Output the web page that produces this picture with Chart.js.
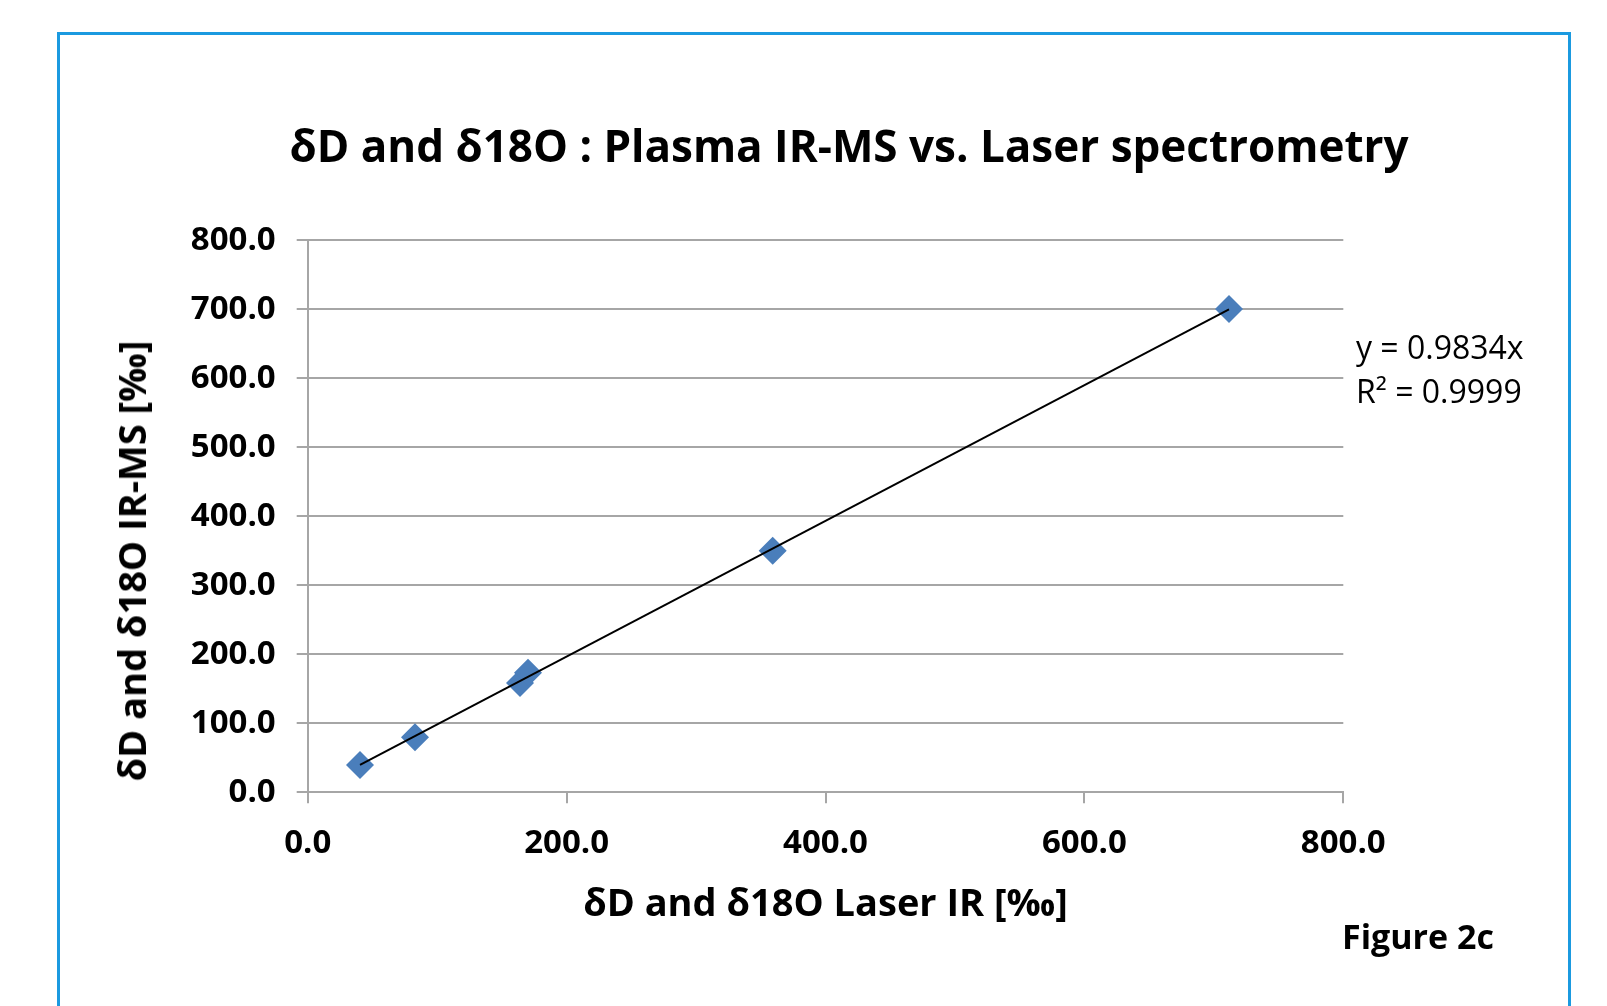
<!DOCTYPE html>
<html>
<head>
<meta charset="utf-8">
<script src="https://cdn.jsdelivr.net/npm/chart.js@4.4.1/dist/chart.umd.min.js"></script>
<style>
  html, body { margin: 0; padding: 0; background: #fff; }
  body { width: 1607px; height: 1006px; position: relative; overflow: hidden; font-family: "Open Sans", sans-serif; }
  #frame { position: absolute; left: 57px; top: 32px; width: 1508px; height: 1000px; border: 3px solid #1b9ae0; }
  #chart { position: absolute; left: 0; top: 0; }
  .txt { position: absolute; white-space: nowrap; color: #000; line-height: 1; }
  #title { left: 849px; top: 145px; transform: translate(-50%, -50%); font-size: 44px; font-weight: 700; }
  #ytitle { left: 131px; top: 561px; transform: translate(-50%, -50%) rotate(-90deg); font-size: 38px; font-weight: 700; }
  #eq { left: 1356px; top: 325px; font-size: 32px; line-height: 44px; }
  #fig { left: 1342px; top: 919px; font-size: 34px; font-weight: 700; }
</style>
</head>
<body>
<div id="frame"></div>
<canvas id="chart" width="1607" height="1006"></canvas>
<div class="txt" id="title">δD and δ18O : Plasma IR-MS vs. Laser spectrometry</div>
<div class="txt" id="ytitle">δD and δ18O IR-MS [‰]</div>
<div class="txt" id="eq">y = 0.9834x<br>R² = 0.9999</div>
<div class="txt" id="fig">Figure 2c</div>
<script>
'use strict';
// values
var laserIR = [40.4, 82.9, 164.0, 170.2, 359.2, 711.7];
var plasmaIRMS = [39.6, 79.7, 158.4, 173.3, 350.1, 700.4];
// trendline y = 0.9834x drawn over the data range
var trendX = [40.4, 711.7];
var trendY = [39.7, 699.9];
var xTicks = [0, 200, 400, 600, 800];
var yTicks = [0, 100, 200, 300, 400, 500, 600, 700, 800];

var points = laserIR.map(function (x, i) { return { x: x, y: plasmaIRMS[i] }; });
var trend = trendX.map(function (x, i) { return { x: x, y: trendY[i] }; });

var gridGray = '#a6a6a6';
var tickFont = { family: 'Open Sans', size: 33, weight: 'bold' };

var ctx = document.getElementById('chart');
var myChart = new Chart(ctx, {
    type: 'scatter',
    data: {
        datasets: [
            {
                label: 'samples',
                data: points,
                pointStyle: 'rectRot',
                pointRadius: 14,
                pointHoverRadius: 14,
                backgroundColor: '#4a7ebb',
                borderColor: '#4a7ebb',
                borderWidth: 0,
                order: 2
            },
            {
                label: 'trend',
                data: trend,
                showLine: true,
                borderColor: '#000',
                borderWidth: 2,
                pointRadius: 0,
                fill: false,
                order: 1
            }
        ]
    },
    options: {
        responsive: false,
        animation: false,
        layout: { padding: { left: 0, top: 240.3, right: 1607 - 1343.3, bottom: 0 } },
        plugins: { legend: { display: false }, tooltip: { enabled: false } },
        scales: {
            x: {
                type: 'linear',
                min: 0,
                max: 800,
                afterBuildTicks: function (scale) {
                    scale.ticks = xTicks.map(function (v) { return { value: v }; });
                },
                afterFit: function (scale) { scale.height = 1006 - 792.3; },
                grid: { drawOnChartArea: false, drawTicks: true, tickLength: 11, color: gridGray, lineWidth: 2 },
                border: { display: true, color: gridGray, width: 2 },
                ticks: {
                    font: tickFont,
                    color: '#000',
                    padding: 20,
                    maxRotation: 0,
                    callback: function (v) { return v.toFixed(1); }
                },
                title: {
                    display: true,
                    text: 'δD and δ18O Laser IR [‰]',
                    font: { family: 'Open Sans', size: 38, weight: 'bold' },
                    color: '#000',
                    padding: { top: 0, bottom: 78 }
                }
            },
            y: {
                type: 'linear',
                min: 0,
                max: 800,
                afterBuildTicks: function (scale) {
                    scale.ticks = yTicks.map(function (v) { return { value: v }; });
                },
                afterFit: function (scale) { scale.width = 307.7; },
                grid: { drawOnChartArea: true, drawTicks: true, tickLength: 11, color: gridGray, lineWidth: 2 },
                border: { display: true, color: gridGray, width: 2 },
                ticks: {
                    font: tickFont,
                    color: '#000',
                    padding: 21,
                    callback: function (v) { return v.toFixed(1); }
                }
            }
        }
    }
});
</script>
</body>
</html>
